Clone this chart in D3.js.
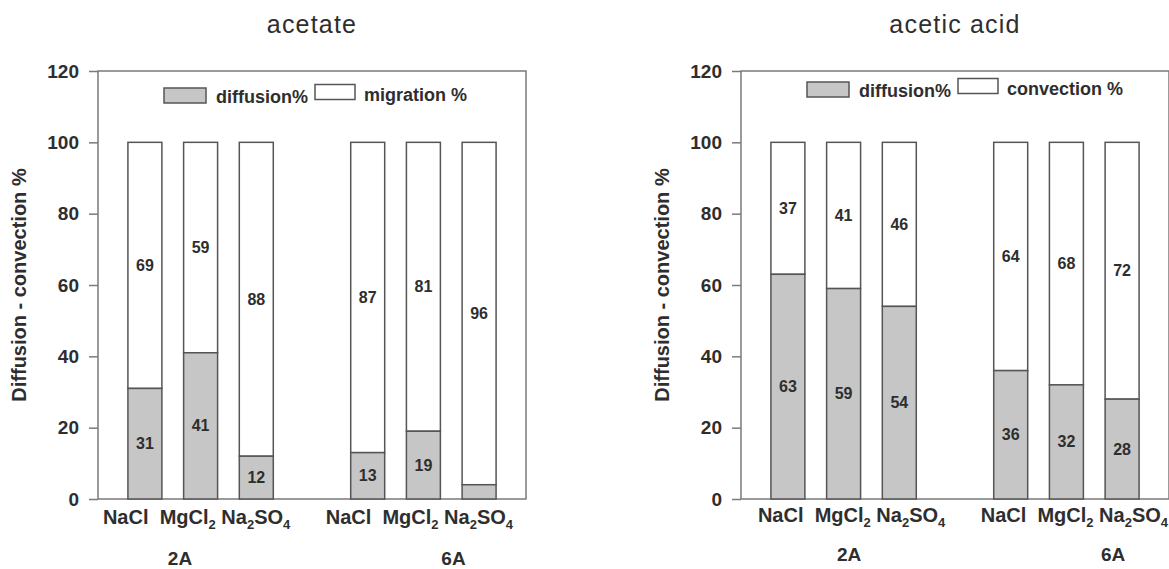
<!DOCTYPE html>
<html>
<head>
<meta charset="utf-8">
<script src="https://cdn.jsdelivr.net/npm/d3@7"></script>
<style>
    body { margin: 0; background: #fff; }
    svg { display: block; font-family: "Liberation Sans", Arial, Helvetica, sans-serif; }
    .tick text { font-size: 19px; font-weight: bold; fill: #2e2e2e; }
    .tick line { stroke: #7a7a7a; stroke-width: 1.5; }
</style>
</head>
<body>
<div id="chart"></div>
<script>
const salts = ["NaCl", "MgCl2", "Na2SO4"];
const currents = ["2A", "6A"];
const yTicks = [0, 20, 40, 60, 80, 100, 120];

const acetateDiffusion = [31, 41, 12, 13, 19, 4];
const acetateMigration = [69, 59, 88, 87, 81, 96];
const aceticDiffusion = [63, 59, 54, 36, 32, 28];
const aceticConvection = [37, 41, 46, 64, 68, 72];

const config = {
    width: 1169,
    height: 569,
    plotTop: 71,
    plotBottom: 499,
    plotWidth: 428
};

const panels = [
    { title: "acetate", diffusion: acetateDiffusion, other: acetateMigration, otherLabel: "migration %",
      left: 98, legendY: 88, rowY: 524, rowShift: -4, groupAt: [0.63, 5.54], groupY: 565 },
    { title: "acetic acid", diffusion: aceticDiffusion, other: aceticConvection, otherLabel: "convection %",
      left: 741, legendY: 82, rowY: 522, rowShift: 8, groupAt: [1.1, 5.84], groupY: 561 }
];

const textColor = "#2e2e2e";
const lineColor = "#7a7a7a";
const barStroke = "#555";
const grayFill = "#c6c6c6";

const svg = d3.select("#chart")
    .append("svg")
    .attr("width", config.width)
    .attr("height", config.height);

// 7 slots, the middle one left empty between the 2A and 6A groups
const x = d3.scaleBand()
    .domain(d3.range(7))
    .range([0, config.plotWidth])
    .paddingInner(0.39)
    .paddingOuter(0.537);

const y = d3.scaleLinear()
    .domain([0, 120])
    .range([config.plotBottom, config.plotTop]);

function slotOf(i) {
    return Math.floor(i / salts.length) * 4 + i % salts.length;
}

function slotCenter(s) {
    return x(0) + x.bandwidth() / 2 + s * x.step();
}

// writes a row of formulas, digits as subscripts
function addFormulaRow(textSel, names) {
    const parts = [];
    names.forEach(function(name, i) {
        if (i > 0) {
            parts.push({ text: i === 1 ? "  " : " ", sub: false });
        }
        name.split(/(\d)/).filter(function(p) { return p !== ""; }).forEach(function(p) {
            parts.push({ text: p, sub: /\d/.test(p) });
        });
    });

    let shifted = false;
    parts.forEach(function(part) {
        const span = textSel.append("tspan").text(part.text);
        if (part.sub) {
            span.style("font-size", "13px");
            if (!shifted) {
                span.attr("dy", 5);
                shifted = true;
            }
        } else if (shifted) {
            span.attr("dy", -5);
            shifted = false;
        }
    });
}

panels.forEach(function(panel) {
    const g = svg.append("g")
        .attr("transform", "translate(" + panel.left + ",0)");

    g.append("text")
        .attr("x", config.plotWidth / 2)
        .attr("y", 33)
        .attr("text-anchor", "middle")
        .style("font-size", "25px")
        .style("letter-spacing", "1.2px")
        .style("fill", textColor)
        .text(panel.title);

    g.append("text")
        .attr("transform", "translate(-79," + (config.plotTop + config.plotBottom) / 2 + ") rotate(-90)")
        .attr("text-anchor", "middle")
        .attr("dominant-baseline", "central")
        .style("font-size", "20px")
        .style("font-weight", "bold")
        .style("fill", textColor)
        .text("Diffusion - convection %");

    const axis = g.append("g")
        .call(d3.axisLeft(y).tickValues(yTicks).tickSize(9).tickPadding(10));
    axis.select(".domain").remove();

    g.append("rect")
        .attr("x", 0)
        .attr("y", config.plotTop)
        .attr("width", config.plotWidth)
        .attr("height", config.plotBottom - config.plotTop)
        .attr("fill", "none")
        .attr("stroke", lineColor)
        .attr("stroke-width", 1.5);

    const rows = panel.diffusion.map(function(d, i) {
        return { slot: slotOf(i), diffusion: d, other: panel.other[i] };
    });

    const bars = g.selectAll(".bar")
        .data(rows)
        .enter()
        .append("g")
        .attr("class", "bar");

    bars.append("rect")
        .attr("x", function(d) { return x(d.slot); })
        .attr("y", function(d) { return y(d.diffusion + d.other); })
        .attr("width", x.bandwidth())
        .attr("height", function(d) { return y(d.diffusion) - y(d.diffusion + d.other); })
        .attr("fill", "#fff")
        .attr("stroke", barStroke)
        .attr("stroke-width", 1.5);

    bars.append("rect")
        .attr("x", function(d) { return x(d.slot); })
        .attr("y", function(d) { return y(d.diffusion); })
        .attr("width", x.bandwidth())
        .attr("height", function(d) { return y(0) - y(d.diffusion); })
        .attr("fill", grayFill)
        .attr("stroke", barStroke)
        .attr("stroke-width", 1.5);

    bars.append("text")
        .attr("x", function(d) { return x(d.slot) + x.bandwidth() / 2; })
        .attr("y", function(d) { return y(d.diffusion + d.other / 2); })
        .text(function(d) { return d.other; });

    bars.filter(function(d) { return d.diffusion >= 8; })
        .append("text")
        .attr("x", function(d) { return x(d.slot) + x.bandwidth() / 2; })
        .attr("y", function(d) { return y(d.diffusion / 2); })
        .text(function(d) { return d.diffusion; });

    bars.selectAll("text")
        .attr("text-anchor", "middle")
        .attr("dominant-baseline", "central")
        .style("font-size", "16px")
        .style("font-weight", "bold")
        .style("fill", textColor);

    // salt names, one row per current group
    currents.forEach(function(current, gi) {
        const row = g.append("text")
            .attr("x", slotCenter(gi * 4 + 1) + panel.rowShift)
            .attr("y", panel.rowY)
            .attr("text-anchor", "middle")
            .style("white-space", "pre")
            .style("font-size", "20px")
            .style("font-weight", "bold")
            .style("fill", textColor);

        addFormulaRow(row, salts);

        g.append("text")
            .attr("x", slotCenter(panel.groupAt[gi]))
            .attr("y", panel.groupY)
            .attr("text-anchor", "middle")
            .style("font-size", "19px")
            .style("font-weight", "bold")
            .style("fill", textColor)
            .text(current);
    });

    // legend
    const legend = g.append("g")
        .attr("transform", "translate(66," + panel.legendY + ")");

    legend.append("rect")
        .attr("width", 42)
        .attr("height", 15)
        .attr("fill", grayFill)
        .attr("stroke", barStroke)
        .attr("stroke-width", 1.5);

    legend.append("text")
        .attr("x", 52)
        .attr("y", 15)
        .text("diffusion%");

    legend.append("rect")
        .attr("x", 151)
        .attr("y", -3.5)
        .attr("width", 40)
        .attr("height", 15)
        .attr("fill", "#fff")
        .attr("stroke", barStroke)
        .attr("stroke-width", 1.5);

    legend.append("text")
        .attr("x", 200)
        .attr("y", 13)
        .text(panel.otherLabel);

    legend.selectAll("text")
        .style("font-size", "18px")
        .style("font-weight", "bold")
        .style("fill", textColor);
});
</script>
</body>
</html>
